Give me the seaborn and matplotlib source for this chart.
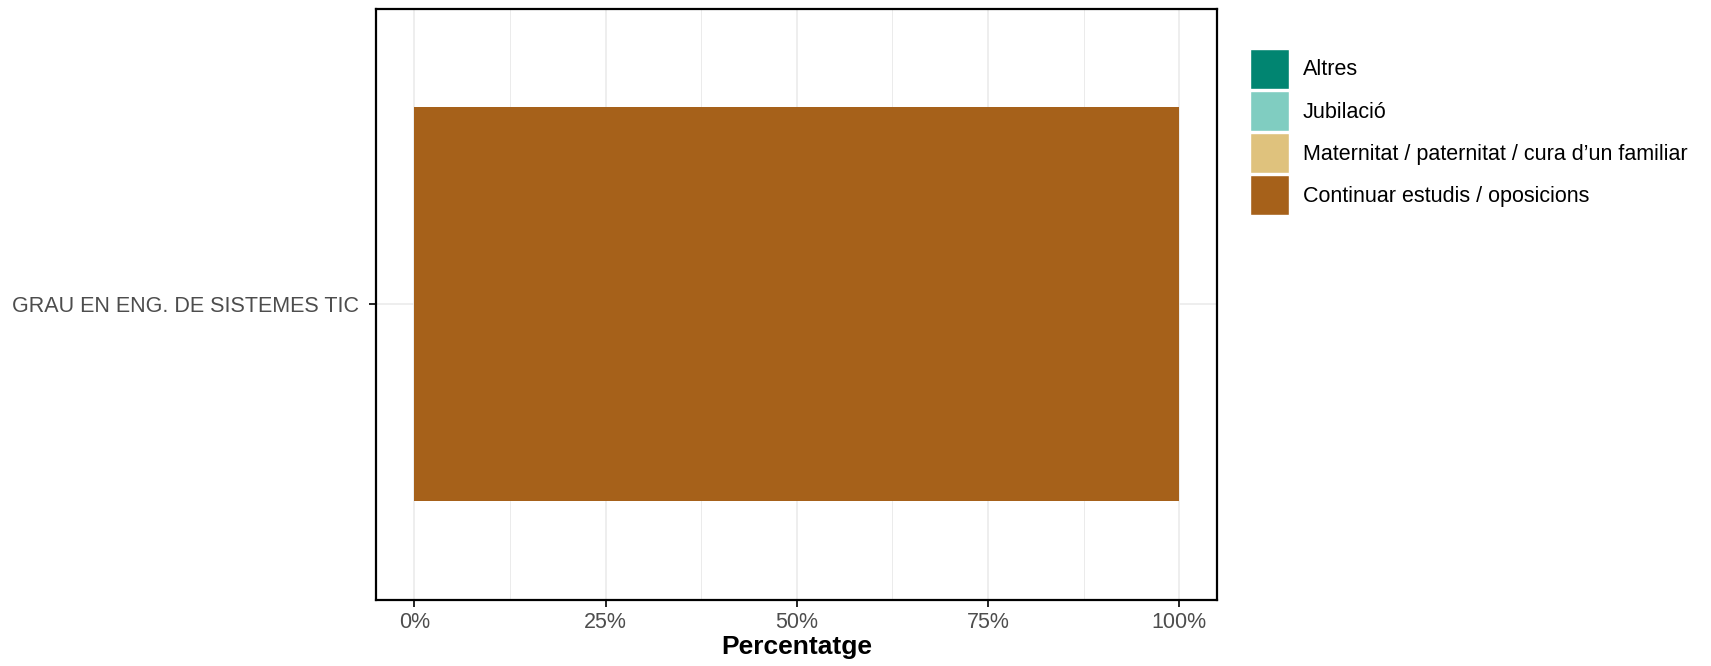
import pandas as pd
import matplotlib.pyplot as plt
import seaborn as sns
from matplotlib.patches import Patch
from matplotlib.ticker import PercentFormatter, MultipleLocator

# Data
titulacions = ["GRAU EN ENG. DE SISTEMES TIC"]
motius = ["Altres", "Jubilació", "Maternitat / paternitat / cura d\u2019un familiar",
          "Continuar estudis / oposicions"]
altres = [0.0]
jubilacio = [0.0]
maternitat = [0.0]
continuar = [1.0]
colors = ["#018571", "#80CDC1", "#DFC27D", "#A6611A"]

sns.set_theme(style="white")
plt.rcParams['font.family'] = ['Liberation Sans', 'DejaVu Sans']

df = pd.DataFrame({
    "titulacio": titulacions,
    "Continuar": continuar,
    "Maternitat": maternitat,
    "Jubilacio": jubilacio,
    "Altres": altres,
})
# stacked: Continuar at left, then Maternitat, Jubilacio, Altres
df["c1"] = df["Continuar"]
df["c2"] = df["c1"] + df["Maternitat"]
df["c3"] = df["c2"] + df["Jubilacio"]
df["c4"] = df["c3"] + df["Altres"]

fig = plt.figure(figsize=(17.11, 6.66), dpi=100)
ax = fig.add_axes([0.2198, 0.0991, 0.7115 - 0.2198, 0.9865 - 0.0991])

for col, colr in zip(["c4", "c3", "c2", "c1"], colors):
    sns.barplot(data=df, x=col, y="titulacio", color=colr, width=0.9,
                saturation=1, ax=ax, orient="h", linewidth=0, zorder=3)

ax.set_xlim(-0.05, 1.05)
ax.set_ylim(0.675, -0.675)
ax.xaxis.set_major_locator(MultipleLocator(0.25))
ax.xaxis.set_minor_locator(MultipleLocator(0.125))
ax.xaxis.set_major_formatter(PercentFormatter(1.0, decimals=0))
ax.grid(True, which="major", axis="both", color="#EBEBEB", linewidth=1.2, zorder=0)
ax.grid(True, which="minor", axis="x", color="#EBEBEB", linewidth=0.7, zorder=0)
ax.set_axisbelow(True)

for s in ax.spines.values():
    s.set_color("black")
    s.set_linewidth(1.6)

ax.tick_params(axis="both", which="major", length=5, width=1.2, color="black",
               labelsize=15.5, labelcolor="#4D4D4D", bottom=True, left=True)
ax.tick_params(axis="y", which="major", pad=7)
ax.tick_params(axis="x", which="major", pad=4)
ax.tick_params(axis="x", which="minor", length=0)
ax.set_ylabel("")
ax.set_xlabel("Percentatge", fontsize=19, fontweight="bold", color="black", labelpad=1)

handles = [Patch(facecolor=c, edgecolor="white", linewidth=1.0) for c in colors]
leg = fig.legend(handles, motius, loc="upper left", bbox_to_anchor=(0.7306, 0.9264),
                 frameon=False, fontsize=15.5, handlelength=1.8, handleheight=2.45,
                 labelspacing=0.12, handletextpad=0.65, borderpad=0, borderaxespad=0)
for t in leg.get_texts():
    t.set_color("black")

fig.savefig("out.png", dpi=100)
